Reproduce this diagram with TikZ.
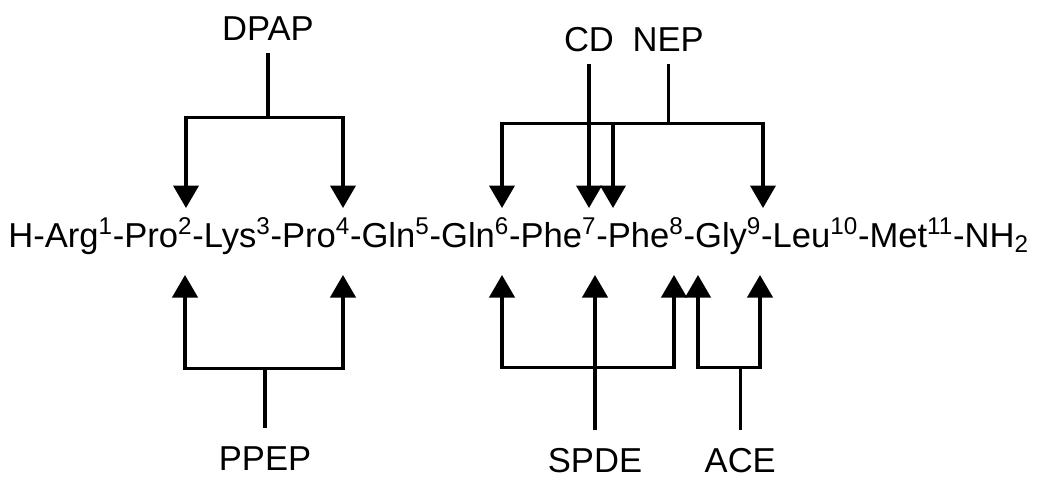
\documentclass[tikz,border=0pt]{standalone}
\usepackage{fontspec}
\setmainfont{Liberation Sans}
\usetikzlibrary{arrows.meta,positioning}

\begin{document}
\begin{tikzpicture}[
  x=0.025cm, y=-0.025cm,
  font=\fontsize{24.6}{29}\selectfont,
  enz/.style={inner sep=0pt},
  top/.style={enz, outer ysep=8.5pt},
  bot/.style={enz, outer ysep=13.5pt},
  wire/.style={line width=2.2pt},
  arr/.style={wire, -{Triangle[width=18pt,length=16pt]}}
]
  \useasboundingbox (0,0) rectangle (1040,482);

  \node[enz, anchor=base west] (seq) at (8,247) {H-Arg\textsuperscript{1}-Pro\textsuperscript{2}-Lys\textsuperscript{3}-Pro\textsuperscript{4}-Gln\textsuperscript{5}-Gln\textsuperscript{6}-Phe\textsuperscript{7}-Phe\textsuperscript{8}-Gly\textsuperscript{9}-Leu\textsuperscript{10}-Met\textsuperscript{11}-NH\textsubscript{2}};
  \coordinate (up) at (0,208);
  \coordinate (dn) at (0,275);

  % cleavage from above
  \node[top] (dpap) at (268,29) {DPAP};
  \node[top] (cd) at (589,40) {CD};
  \node[top, right=0.45cm of cd] (nep) {NEP};

  \draw[wire] (dpap.south) -- ++(0,65) coordinate (dpapj);
  \draw[arr] (dpapj) -| (186,0 |- up);
  \draw[arr] (dpapj) -| (343,0 |- up);

  \draw[arr] (cd.south) -- (cd.south |- up);

  \draw[wire] (nep.south) -- ++(0,60) coordinate (nepj);
  \draw[arr] (nepj) -| (502,0 |- up);
  \draw[arr] (nepj) -| (613,0 |- up);
  \draw[arr] (nepj) -| (763,0 |- up);

  % cleavage from below
  \node[bot] (ppep) at (265,459) {PPEP};
  \node[bot] (spde) at (595,461) {SPDE};
  \node[bot, right=1.55cm of spde] (ace) {ACE};

  \draw[wire] (ppep.north) -- ++(0,-60) coordinate (ppepj);
  \draw[arr] (ppepj) -| (185,0 |- dn);
  \draw[arr] (ppepj) -| (343,0 |- dn);

  \draw[arr] (spde.north) -- (spde.north |- dn);
  \path (spde.north) ++(0,-62) coordinate (spdej);
  \draw[arr] (spdej) -| (502,0 |- dn);
  \draw[arr] (spdej) -| (674,0 |- dn);

  \draw[wire] (ace.north) -- ++(0,-62) coordinate (acej);
  \draw[arr] (acej) -| (698,0 |- dn);
  \draw[arr] (acej) -| (760,0 |- dn);
\end{tikzpicture}
\end{document}
